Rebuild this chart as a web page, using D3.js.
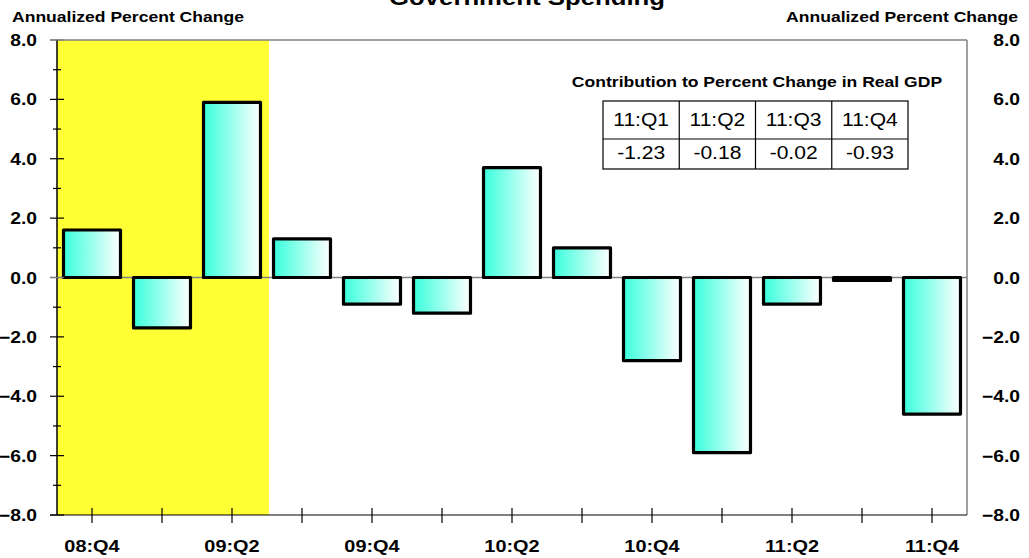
<!DOCTYPE html>
<html>
<head>
<meta charset="utf-8">
<script src="https://cdn.jsdelivr.net/npm/d3@7"></script>
<style>
  html, body { margin: 0; padding: 0; background: #fff; }
  svg { display: block; }
  text { font-family: "Liberation Sans", Arial, sans-serif; fill: #000; }
</style>
</head>
<body>
<svg id="chart" width="1029" height="558"></svg>
<script>
// Quarterly annualized percent change, real government spending
const quarters = ["08:Q4","09:Q1","09:Q2","09:Q3","09:Q4","10:Q1","10:Q2","10:Q3","10:Q4","11:Q1","11:Q2","11:Q3","11:Q4"];
const pctChange = [1.6, -1.7, 5.9, 1.3, -0.9, -1.2, 3.7, 1.0, -2.8, -5.9, -0.9, -0.1, -4.6];

// Recession shading (first through last shaded quarter)
const recession = ["08:Q4", "09:Q2"];

// Labelled quarters on the x axis
const xTickLabels = ["08:Q4","09:Q2","09:Q4","10:Q2","10:Q4","11:Q2","11:Q4"];

// Y axis ticks
const yMajorTicks = [-8, -6, -4, -2, 0, 2, 4, 6, 8];
const yMinorTicks = [-7, -5, -3, -1, 1, 3, 5, 7];

// Contribution table
const contribQuarters = ["11:Q1","11:Q2","11:Q3","11:Q4"];
const contribValues = ["-1.23","-0.18","-0.02","-0.93"];

(function () {
const svg = d3.select("#chart");
const SX = 1.17; // horizontal text stretch

const pLeft = 57, pRight = 967, pTop = 40, pBottom = 515;

const x = d3.scaleBand().domain(quarters).range([pLeft, pRight]).paddingInner(0.186).paddingOuter(0.093);
const step = x.step();
const xc = q => x(q) + x.bandwidth() / 2;
const y = d3.scaleLinear().domain([-8, 8]).range([pBottom, pTop]);

function label(g, px, py, str, o = {}) {
  return g.append("text")
    .attr("transform", `translate(${px},${py}) scale(${SX},1)`)
    .attr("text-anchor", o.anchor || "start")
    .attr("font-size", o.size || 15)
    .attr("font-weight", o.weight || "bold")
    .text(str);
}

// gradient for bars
const defs = svg.append("defs");
const grad = defs.append("linearGradient").attr("id", "barFill")
  .attr("x1", "0%").attr("x2", "100%").attr("y1", "0%").attr("y2", "0%");
grad.append("stop").attr("offset", "0%").attr("stop-color", "#38ffdc");
grad.append("stop").attr("offset", "100%").attr("stop-color", "#ffffff");

// recession band
const bandEnd = xc(recession[1]) + step / 2 + 2;
svg.append("rect")
  .attr("x", pLeft).attr("y", pTop)
  .attr("width", bandEnd - pLeft).attr("height", pBottom - pTop)
  .attr("fill", "#ffff33");

// frame: top and right in grey
svg.append("line").attr("x1", 50).attr("x2", pRight).attr("y1", pTop).attr("y2", pTop)
  .attr("stroke", "#808080").attr("stroke-width", 1.5);
svg.append("line").attr("x1", pRight).attr("x2", pRight).attr("y1", pTop).attr("y2", pBottom)
  .attr("stroke", "#808080").attr("stroke-width", 1.5);

// zero line
svg.append("line").attr("x1", 50).attr("x2", pRight).attr("y1", y(0)).attr("y2", y(0))
  .attr("stroke", "#808080").attr("stroke-width", 1.5);

// bars
svg.append("g").selectAll("rect").data(quarters).join("rect")
  .attr("x", d => x(d))
  .attr("width", x.bandwidth())
  .attr("y", (d, i) => y(Math.max(0, pctChange[i])))
  .attr("height", (d, i) => Math.abs(y(pctChange[i]) - y(0)))
  .attr("fill", "url(#barFill)")
  .attr("stroke", "#000")
  .attr("stroke-width", 3.2)
  .attr("stroke-linejoin", "round");

// left axis
const axisG = svg.append("g");
axisG.append("line").attr("x1", pLeft).attr("x2", pLeft).attr("y1", pTop).attr("y2", pBottom)
  .attr("stroke", "#000").attr("stroke-width", 1.5);
axisG.selectAll(".maj").data(yMajorTicks).join("line")
  .attr("x1", 50).attr("x2", 64).attr("y1", d => y(d)).attr("y2", d => y(d))
  .attr("stroke", d => (d === 0 || d === 8) ? "#808080" : "#000").attr("stroke-width", 1.2);
axisG.selectAll(".min").data(yMinorTicks).join("line")
  .attr("x1", 53).attr("x2", 61).attr("y1", d => y(d)).attr("y2", d => y(d))
  .attr("stroke", "#000").attr("stroke-width", 1.2);

// bottom axis
axisG.append("line").attr("x1", 50).attr("x2", pRight).attr("y1", pBottom).attr("y2", pBottom)
  .attr("stroke", "#000").attr("stroke-width", 1.2);
axisG.selectAll(".xt").data(quarters).join("line")
  .attr("x1", d => xc(d)).attr("x2", d => xc(d))
  .attr("y1", pBottom - 7).attr("y2", pBottom + 8)
  .attr("stroke", "#000").attr("stroke-width", 1.2);

// tick labels
const fmt = d3.format(".1f");
yMajorTicks.forEach(v => {
  label(svg, 37, y(v) + 6, fmt(v), { anchor: "end", size: 16.5 });
  label(svg, 1020, y(v) + 6, fmt(v), { anchor: "end", size: 16.5 });
});
xTickLabels.forEach(q => {
  label(svg, xc(q), 552, q, { anchor: "middle", size: 17 });
});

// headers and title
label(svg, 12, 22, "Annualized Percent Change", { size: 15 });
label(svg, 1018, 22, "Annualized Percent Change", { anchor: "end", size: 15 });
label(svg, 527, 5, "Government Spending", { anchor: "middle", size: 22 });

// contribution table
label(svg, 757, 87, "Contribution to Percent Change in Real GDP", { anchor: "middle", size: 15 });
const tx0 = 603, tx1 = 908, ty0 = 101, ty1 = 169, tyMid = 139;
const cols = d3.scaleBand().domain(contribQuarters).range([tx0, tx1]);
const tbl = svg.append("g");
tbl.append("rect").attr("x", tx0).attr("y", ty0).attr("width", tx1 - tx0).attr("height", ty1 - ty0)
  .attr("fill", "#fff").attr("stroke", "#000").attr("stroke-width", 1.2);
tbl.append("line").attr("x1", tx0).attr("x2", tx1).attr("y1", tyMid).attr("y2", tyMid)
  .attr("stroke", "#000").attr("stroke-width", 1.2);
contribQuarters.slice(1).forEach(q => {
  tbl.append("line").attr("x1", cols(q)).attr("x2", cols(q)).attr("y1", ty0).attr("y2", ty1)
    .attr("stroke", "#000").attr("stroke-width", 1.2);
});
contribQuarters.forEach((q, i) => {
  const cx = cols(q) + cols.bandwidth() / 2;
  label(tbl, cx, 126, q, { anchor: "middle", size: 18, weight: "normal" });
  label(tbl, cx, 159, contribValues[i], { anchor: "middle", size: 18, weight: "normal" });
});
})();
</script>
</body>
</html>
